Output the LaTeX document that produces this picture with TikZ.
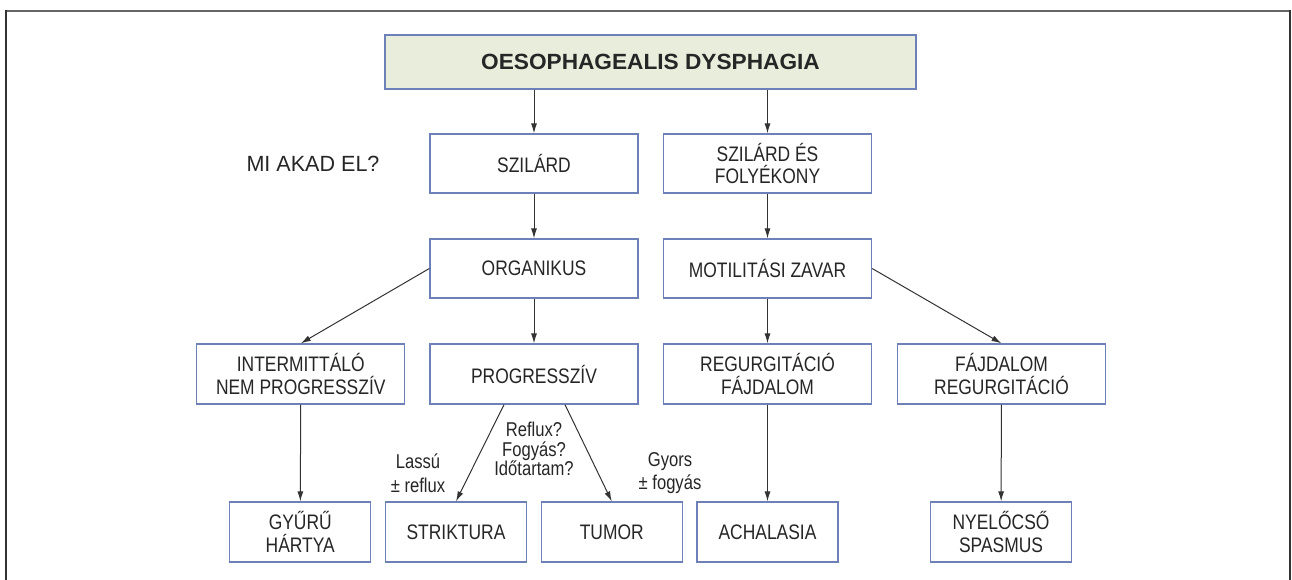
\documentclass[tikz,border=0pt]{standalone}
\usepackage{fontspec}
\setmainfont{Liberation Sans}
\newfontfamily\nfont{Liberation Sans}[FakeStretch=0.83]
\newfontfamily\tfont{Liberation Sans}[FakeStretch=1.03]
\newfontfamily\mfont{Liberation Sans}[FakeStretch=0.98]
\usetikzlibrary{arrows.meta,calc}
\definecolor{boxblue}{HTML}{6E80B8}
\definecolor{titlefill}{HTML}{E8EEDB}
\definecolor{txt}{HTML}{262626}
\definecolor{arr}{HTML}{333333}
\tikzset{
  box/.style={draw=boxblue, line width=1.3pt, fill=white, inner sep=0pt, align=center,
    text=txt, font=\nfont\fontsize{21}{22.5}\selectfont, minimum height=59pt},
  w208/.style={minimum width=208pt},
  w141/.style={minimum width=141pt},
  titlebox/.style={draw=boxblue, line width=1.3pt, fill=titlefill, inner sep=0pt,
    text=txt, font=\tfont\bfseries\fontsize{22}{24}\selectfont, minimum width=531pt, minimum height=54pt},
  lab/.style={align=center, text=txt, inner sep=0pt, font=\nfont\fontsize{20}{19.5}\selectfont},
  conn/.style={draw=arr, line width=1pt, -{Latex[length=10pt,width=6pt]}},
}
\begin{document}
\begin{tikzpicture}[x=1pt,y=-1pt]
\useasboundingbox (0,0) rectangle (1292,580);
% frame
\draw[color=gray!80!black, line width=2pt] (5,11) -- (1291,11);
\draw[color=black!80, line width=2pt] (6,580) -- (6,10);
\draw[color=black!80, line width=2pt] (1290,580) -- (1290,10);

\node[titlebox] (title) at (650.5,62) {OESOPHAGEALIS DYSPHAGIA};

\node[lab, font=\mfont\fontsize{22}{24}\selectfont] (q) at (313,164) {MI AKAD EL?};

\node[box,w208] (szil) at (534,163.5) {SZILÁRD};
\node[box,w208] (szf) at (767.5,163.5) {SZILÁRD ÉS\\FOLYÉKONY};
\node[box,w208] (org) at (534,268.5) {ORGANIKUS};
\node[box,w208] (mot) at (767.5,268.5) {MOTILITÁSI ZAVAR};
\node[box,w208,minimum height=60pt] (inter) at (300.75,374) {INTERMITTÁLÓ\\NEM PROGRESSZÍV};
\node[box,w208,minimum height=60pt] (prog) at (534,374) {PROGRESSZÍV};
\node[box,w208,minimum height=60pt] (regf) at (767.5,374) {REGURGITÁCIÓ\\FÁJDALOM};
\node[box,w208,minimum height=60pt] (fajr) at (1001.5,374) {FÁJDALOM\\REGURGITÁCIÓ};
\node[box,w141,minimum height=60pt] (gyuru) at (300.25,532) {GYŰRŰ\\HÁRTYA};
\node[box,w141,minimum height=60pt] (strik) at (456,532) {STRIKTURA};
\node[box,w141,minimum height=60pt] (tumor) at (611.75,532) {TUMOR};
\node[box,w141,minimum height=60pt] (acha) at (767.5,532) {ACHALASIA};
\node[box,w141,minimum height=60pt] (nyel) at (1001,532) {NYELŐCSŐ\\SPASMUS};

\node[lab] (refl) at (534,449) {Reflux?\\Fogyás?\\Időtartam?};
\node[lab, font=\nfont\fontsize{20}{23.5}\selectfont] (lassu) at (418,473) {Lassú\\± reflux};
\node[lab, font=\nfont\fontsize{20}{23.5}\selectfont] (gyors) at (670,473) {Gyors\\± fogyás};

\draw[conn] (szil |- title.south) -- (szil.north);
\draw[conn] (szf |- title.south) -- (szf.north);
\draw[conn] (szil) -- (org);
\draw[conn] (szf) -- (mot);
\draw[conn] (org.west) -- (inter.north);
\draw[conn] (org) -- (prog);
\draw[conn] (mot) -- (regf);
\draw[conn] (mot.east) -- (fajr.north);
\draw[conn] (inter) -- (gyuru);
\draw[conn] ([xshift=-30pt]prog.south) -- (strik.north);
\draw[conn] ([xshift=31pt]prog.south) -- (tumor.north);
\draw[conn] (regf) -- (acha);
\draw[conn] (fajr) -- (nyel);
\end{tikzpicture}
\end{document}
